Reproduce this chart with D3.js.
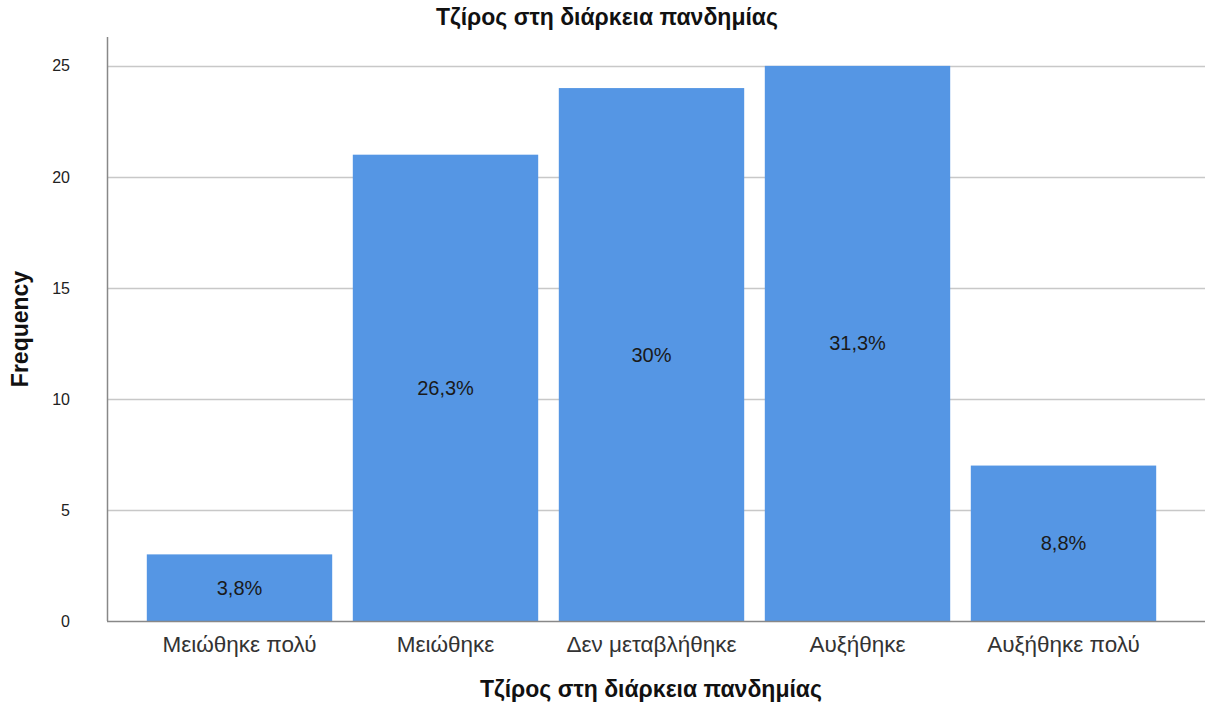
<!DOCTYPE html>
<html>
<head>
<meta charset="utf-8">
<script src="https://cdn.jsdelivr.net/npm/d3@7"></script>
<style>
  html, body { margin: 0; padding: 0; background: #fff; }
  svg { display: block; font-family: "Liberation Sans", Arial, sans-serif; }
</style>
</head>
<body>
<svg id="chart" width="1225" height="708"></svg>
<script>
// Turnover during the pandemic — frequency of responses
const categories = ["Μειώθηκε πολύ", "Μειώθηκε", "Δεν μεταβλήθηκε", "Αυξήθηκε", "Αυξήθηκε πολύ"];
const frequencies = [3, 21, 24, 25, 7];
const yTicks = [0, 5, 10, 15, 20, 25];
const chartTitle = "Τζίρος στη διάρκεια πανδημίας";
const xTitle = "Τζίρος στη διάρκεια πανδημίας";
const yTitle = "Frequency";

const svg = d3.select("#chart");
const plot = { left: 107, right: 1205, top: 37, bottom: 621 };

const x = d3.scaleBand()
  .domain(categories)
  .range([136.5, 1166.5])
  .paddingInner(0.1)
  .paddingOuter(0.05);

const y = d3.scaleLinear()
  .domain([0, 26.3])
  .range([plot.bottom, plot.top]);

const total = d3.sum(frequencies);
const pctFmt = v => {
  const p = Math.round(v / total * 1000) / 10;
  return (Number.isInteger(p) ? p.toFixed(0) : p.toFixed(1)).replace(".", ",") + "%";
};

// Horizontal grid lines
svg.append("g")
  .selectAll("line")
  .data(yTicks.filter(d => d > 0))
  .join("line")
  .attr("x1", plot.left).attr("x2", plot.right)
  .attr("y1", d => Math.round(y(d)) + 0.5).attr("y2", d => Math.round(y(d)) + 0.5)
  .attr("stroke", "#c8c8c8").attr("stroke-width", 1.5);

const rows = categories.map((c, i) => ({ c, v: frequencies[i] }));

// Bars
svg.append("g")
  .selectAll("rect")
  .data(rows)
  .join("rect")
  .attr("x", d => x(d.c))
  .attr("width", x.bandwidth())
  .attr("y", d => y(d.v))
  .attr("height", d => y(0) - y(d.v))
  .attr("fill", "#5596e4");

// Percentage labels inside bars
svg.append("g")
  .selectAll("text")
  .data(rows)
  .join("text")
  .attr("x", d => x(d.c) + x.bandwidth() / 2)
  .attr("y", d => y(d.v / 2))
  .attr("dy", "0.35em")
  .attr("text-anchor", "middle")
  .attr("font-size", 20)
  .attr("fill", "#1a1a1a")
  .text(d => pctFmt(d.v));

// Y axis
const yAxis = svg.append("g")
  .attr("transform", `translate(${plot.left},0)`)
  .call(d3.axisLeft(y).tickValues(yTicks).tickSize(0).tickPadding(37));
yAxis.select(".domain").remove();
yAxis.selectAll("text").attr("font-size", 16).attr("fill", "#222")
  .attr("font-family", "Liberation Sans, Arial, sans-serif");

// X axis
const xAxis = svg.append("g")
  .attr("transform", `translate(0,${plot.bottom})`)
  .call(d3.axisBottom(x).tickSize(0));
xAxis.select(".domain").remove();
xAxis.selectAll("text")
  .attr("y", 31).attr("dy", 0)
  .attr("font-size", 22.5).attr("fill", "#333")
  .attr("font-family", "Liberation Sans, Arial, sans-serif");

// Axis lines
svg.append("line")
  .attr("x1", plot.left + 0.5).attr("x2", plot.left + 0.5)
  .attr("y1", plot.top).attr("y2", plot.bottom)
  .attr("stroke", "#888").attr("stroke-width", 1.5);
svg.append("line")
  .attr("x1", plot.left).attr("x2", plot.right)
  .attr("y1", plot.bottom + 0.5).attr("y2", plot.bottom + 0.5)
  .attr("stroke", "#888").attr("stroke-width", 1.5);

// Titles
svg.append("text")
  .attr("x", 607).attr("y", 25)
  .attr("text-anchor", "middle")
  .attr("font-size", 23).attr("font-weight", "bold").attr("fill", "#111")
  .text(chartTitle);

svg.append("text")
  .attr("x", 651).attr("y", 697)
  .attr("text-anchor", "middle")
  .attr("font-size", 23).attr("font-weight", "bold").attr("fill", "#111")
  .text(xTitle);

svg.append("text")
  .attr("transform", "translate(28,329) rotate(-90)")
  .attr("text-anchor", "middle")
  .attr("font-size", 23).attr("font-weight", "bold").attr("fill", "#111")
  .text(yTitle);
</script>
</body>
</html>
